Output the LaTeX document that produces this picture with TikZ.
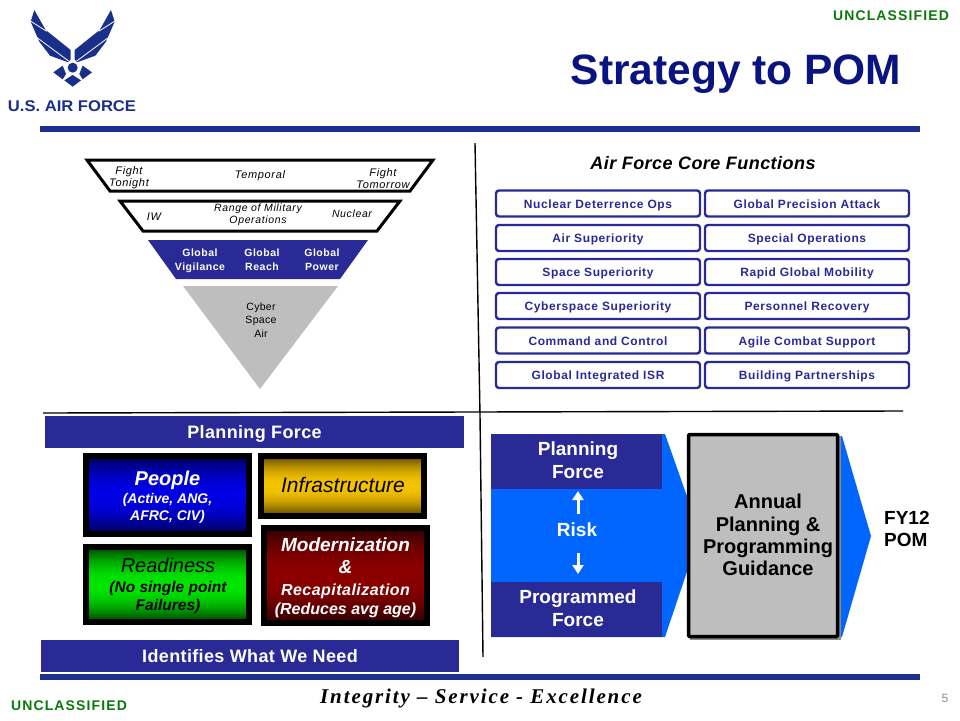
\documentclass[tikz,border=0pt]{standalone}
\usepackage{fontspec}
\setmainfont{Liberation Sans}
\newfontfamily\serifx{Liberation Serif}
\usetikzlibrary{arrows.meta,shapes.geometric}
\definecolor{navy}{HTML}{2A2A96}
\definecolor{afblue}{HTML}{1F2F8E}
\definecolor{logoblue}{HTML}{1A2F8A}
\definecolor{bright}{HTML}{0066FF}
\definecolor{greyfill}{HTML}{BEBEBE}
\definecolor{titleblue}{HTML}{0A1480}
\definecolor{green1}{HTML}{0A7A0A}
\definecolor{pe}{HTML}{000050}\definecolor{pm}{HTML}{0000E6}
\definecolor{re}{HTML}{004000}\definecolor{rm}{HTML}{00E600}
\definecolor{ie}{HTML}{5A4400}\definecolor{im}{HTML}{F5C400}
\definecolor{me}{HTML}{2E0000}\definecolor{mm}{HTML}{8C0000}
\newcommand{\fs}[2]{\fontsize{#1}{#2}\selectfont}
\newcommand{\ls}[1]{\addfontfeature{LetterSpace=#1}}
\newcommand{\gradrect}[6]{%
  \pgfmathtruncatemacro{\gradn}{#4-#2-1}%
  \foreach \i in {0,...,\gradn}{%
    \pgfmathtruncatemacro{\gradp}{100*(1-(2*\i/\gradn-1)^2)}%
    \fill[#6!\gradp!#5] (#1,#2+\i) rectangle (#3,#2+\i+1.5);
  }%
}
\tikzset{
  lbl/.style={align=center,inner sep=0pt},
  core/.style={draw=navy,line width=2.4pt,rounded corners=3pt,fill=white,minimum width=204pt,minimum height=26pt,inner sep=0pt,text=navy,text height=10pt,text depth=1pt,font=\fs{12}{14}\bfseries\ls{5}},
  bar/.style={fill=navy,text=white,inner sep=0pt,align=center,text height=12.5pt,text depth=0pt,font=\fs{18}{20}\bfseries\ls{2}},
  gradbox/.style={draw=black,line width=6pt,inner sep=0pt},
  hollow/.style={draw=black,line width=3pt,fill=white,line join=miter},
  ital/.style={lbl,font=\fs{11}{12.5}\itshape\ls{6}},
  white tri/.style={lbl,text=white,font=\fs{10.5}{13.5}\bfseries\ls{5}},
  bigw/.style={lbl,text=white,font=\fs{19}{23}\bfseries},
  wingfill/.style={fill=logoblue},
  riskarrow/.style={-{Triangle[length=9pt,width=11pt]},draw=white,line width=3pt},
  rule/.style={draw=black,line width=1.4pt},
  unc/.style={lbl,text=green1,font=\fs{14}{16}\bfseries\ls{8}},
  boxtext/.style={inner sep=0pt,anchor=base}
}
\newcommand{\wingshape}{
  \fill[wingfill] (103,30)--(137,90)--(212,150)--(212,178)--(205,187)--(150,167)--(118,125)--(92,65)--cycle;
  \draw[white,line width=0.8pt] (88,61)--(140,94);
  \draw[white,line width=0.8pt] (110,112)--(207,184);
  \fill[wingfill] (160,217)--(188,197)--(198,222)--(188,238)--cycle;
}
\begin{document}
\begin{tikzpicture}[x=1pt,y=-1pt]
\useasboundingbox (0,0) rectangle (960,720);
\fill[white] (0,0) rectangle (960,720);

% logo
\begin{scope}[scale=1/3]
  \wingshape
  \begin{scope}[shift={(436,0)},xscale=-1]
    \wingshape
  \end{scope}
  \fill[wingfill] (218,203) circle (15);
  \fill[wingfill] (218,225)--(243,241)--(218,260)--(193,241)--cycle;
\end{scope}
\node[lbl,text=logoblue,font=\fs{15.5}{18}\bfseries,xscale=1.07] (usaf) at (72,106) {U.S. AIR FORCE};

\node[unc] (u1) at (891,15.5) {UNCLASSIFIED};
\node[unc] (u2) at (69,706) {UNCLASSIFIED};
\node[lbl,text=titleblue,font=\fs{42.5}{48}\bfseries] (title) at (736,74) {Strategy to POM};

% rules
\fill[afblue] (40,126) rectangle (920,132);
\fill[afblue] (40,674) rectangle (920,680);
\node[lbl,font=\fs{21}{23}\serifx\bfseries\itshape\ls{9}] (motto) at (481,698) {Integrity – Service - Excellence};
\node[lbl,text=black!45,font=\fs{12}{14}] (pg) at (945,698) {5};

\coordinate (va) at (475,143); \coordinate (vb) at (480,415); \coordinate (vc) at (483,657);
\coordinate (ha) at (43,413); \coordinate (hb) at (903,411);
\draw[rule] (va)--(vb)--(vc);
\draw[rule] (ha)--(hb);

% funnel
\draw[hollow] (87,160)--(433,160)--(410,191)--(110,191)--cycle;
\node[ital] (t1) at (129,177.5) {Fight\\Tonight};
\node[ital] (t2) at (260,176) {Temporal};
\node[ital] (t3) at (383,178.5) {Fight\\Tomorrow};
\draw[hollow] (120,201)--(400,201)--(377,231)--(143,231)--cycle;
\node[ital] (r1) at (154,217) {IW};
\node[ital,font=\fs{10.5}{12.5}\itshape\ls{6}] (r2) at (258,215) {Range of Military\\Operations};
\node[ital,font=\fs{10.5}{12.5}\itshape\ls{6}] (r3) at (352,214) {Nuclear};
\fill[navy] (148,240)--(368,240)--(340,279)--(176,279)--cycle;
\node[white tri] (g1) at (200,261) {Global\\Vigilance};
\node[white tri] (g2) at (262,259.5) {Global\\Reach};
\node[white tri] (g3) at (322,259.5) {Global\\Power};
\fill[greyfill] (183,286)--(338,286)--(260,389)--cycle;
\node[lbl,font=\fs{10.5}{13.5}\ls{3}] (cy) at (261,320) {Cyber\\Space\\Air};

% core functions
\node[lbl,font=\fs{18}{20}\bfseries\itshape\ls{2.5}] (cf) at (703,163) {Air Force Core Functions};
\foreach \n/\y/\a/\b in {1/203.5/Nuclear Deterrence Ops/Global Precision Attack,
  2/238/Air Superiority/Special Operations,
  3/272/Space Superiority/Rapid Global Mobility,
  4/306/Cyberspace Superiority/Personnel Recovery,
  5/340.5/Command and Control/Agile Combat Support,
  6/375/Global Integrated ISR/Building Partnerships}{
  \node[core] (l\n) at (598,\y) {\a};
  \node[core] (r\n) at (807,\y) {\b};
}

% left lower
\node[bar,minimum width=419pt,minimum height=32pt] (pfbar) at (254.5,432) {Planning Force};
\node[bar,minimum width=418pt,minimum height=32pt] (need) at (250,656) {Identifies What We Need};

\gradrect{86}{456}{249}{534}{pe}{pm}
\node[gradbox,minimum width=163pt,minimum height=78pt] (people) at (167.5,495) {};
\node[boxtext,text=white,font=\fs{20}{24}\bfseries\itshape] (p1) at (167.5,485) {People};
\node[boxtext,text=white,font=\fs{14}{17}\bfseries\itshape] (p2) at (167.5,503) {(Active, ANG,};
\node[boxtext,text=white,font=\fs{14}{17}\bfseries\itshape] (p3) at (167.5,520) {AFRC, CIV)};

\gradrect{86}{547}{249}{622}{re}{rm}
\node[gradbox,minimum width=163pt,minimum height=75pt] (ready) at (167.5,584.5) {};
\node[boxtext,font=\fs{20}{24}\itshape] (r4) at (168,572) {Readiness};
\node[boxtext,font=\fs{15.5}{20}\bfseries\itshape] (r5) at (168,592) {(No single point};
\node[boxtext,font=\fs{15.5}{20}\bfseries\itshape] (r6) at (168,610) {Failures)};

\gradrect{261}{456}{424}{516}{ie}{im}
\node[gradbox,minimum width=163pt,minimum height=60pt] (infra) at (342.5,486) {};
\node[boxtext,font=\fs{21}{24}\itshape] (i1) at (343,492) {Infrastructure};

\gradrect{264}{528}{427}{623}{me}{mm}
\node[gradbox,minimum width=163pt,minimum height=95pt] (modern) at (345.5,575.5) {};
\node[boxtext,text=white,font=\fs{19}{24}\bfseries\itshape] (m1) at (345.5,551) {Modernization};
\node[boxtext,text=white,font=\fs{19}{24}\bfseries\itshape] (m2) at (345.5,573) {\&};
\node[boxtext,text=white,font=\fs{16}{20}\bfseries\itshape\ls{3}] (m3) at (345.5,595) {Recapitalization};
\node[boxtext,text=white,font=\fs{16}{20}\bfseries\itshape] (m4) at (345.5,614) {(Reduces avg age)};

% process
\fill[bright] (830,436)--(842,436)--(871,536)--(842,637)--(830,637)--cycle;
\fill[bright] (491,434)--(665,434)--(700,533)--(665,637)--(491,637)--cycle;
\fill[navy] (491,434) rectangle (662,489);
\fill[navy] (491,582) rectangle (662,637);
\node[bigw] (pf) at (578,460.5) {Planning\\Force};
\node[bigw] (prf) at (578,608.5) {Programmed\\Force};
\node[lbl,text=white,font=\fs{19}{22}\bfseries] (risk) at (577,530) {Risk};
\coordinate (ua) at (578,514); \coordinate (ub) at (578,491);
\coordinate (da) at (578,553); \coordinate (db) at (578,574);
\draw[riskarrow] (ua)--(ub);
\draw[riskarrow] (da)--(db);
\fill[black!45] (690,436) rectangle (841,640);
\node[draw=black,line width=3.5pt,fill=greyfill,rounded corners=1pt,minimum width=149pt,minimum height=202pt,inner sep=0pt] (appg) at (763,535.5) {};
\node[lbl,font=\fs{20}{22.3}\bfseries] (appgt) at (768,535) {Annual\\Planning \&\\Programming\\Guidance};
\node[lbl,align=left,font=\fs{19}{22.5}\bfseries,anchor=west] (fy) at (884,529) {FY12\\POM};
\end{tikzpicture}
\end{document}
